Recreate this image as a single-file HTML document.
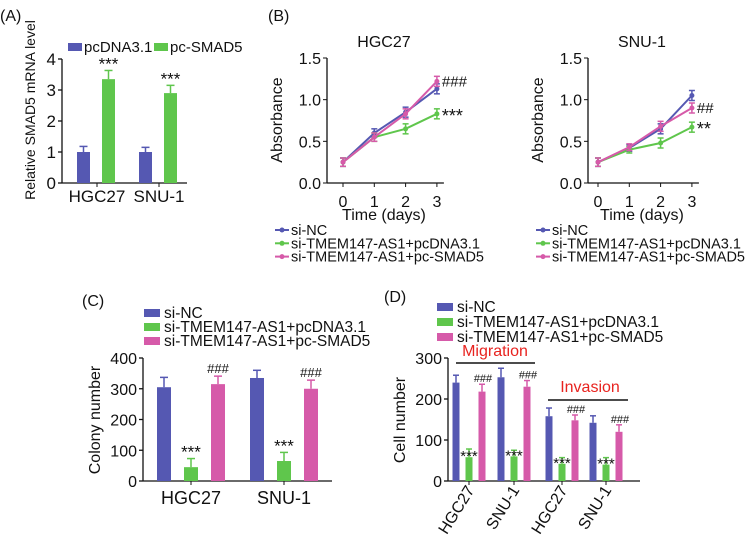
<!DOCTYPE html>
<html><head><meta charset="utf-8"><style>
body{margin:0;background:#fff}
svg{display:block;font-family:"Liberation Sans",Arial,sans-serif}
</style></head><body>
<svg id="fig" width="751" height="536" viewBox="0 0 751 536"></svg>
<script>
// Panel A data
const aGroups = ["HGC27","SNU-1"];
const aCtrl = [1.0, 1.0];
const aCtrlErr = [0.18, 0.15];
const aSmad = [3.35, 2.9];
const aSmadErr = [0.28, 0.25];
const aTicks = [0,1,2,3,4];
// Panel B data
const bDays = [0,1,2,3];
const bTicks = [0.0,0.5,1.0,1.5];
const bHgcNC = [0.25,0.60,0.85,1.13];
const bHgcPc = [0.25,0.55,0.65,0.83];
const bHgcSm = [0.25,0.55,0.83,1.22];
const bHgcErr = [0.05,0.05,0.06,0.06];
const bSnuNC = [0.25,0.42,0.65,1.05];
const bSnuPc = [0.25,0.40,0.48,0.67];
const bSnuSm = [0.25,0.43,0.68,0.90];
const bSnuErr = [0.05,0.04,0.06,0.06];
// Panel C data
const cGroups = ["HGC27","SNU-1"];
const cNC = [305,335];
const cPc = [45,65];
const cSm = [315,300];
const cNCErr = [32,25];
const cPcErr = [28,28];
const cSmErr = [26,28];
const cTicks = [0,100,200,300,400];
// Panel D data
const dGroups = ["HGC27","SNU-1","HGC27","SNU-1"];
const dNC = [240,253,158,142];
const dPc = [58,60,42,40];
const dSm = [218,230,148,120];
const dNCErr = [18,22,20,17];
const dPcErr = [20,15,15,17];
const dSmErr = [18,15,13,17];
const dTicks = [0,100,200,300];

const BLUE="#5558b2", GREEN="#5fc64c", PINK="#d65aa9";
const svg=document.getElementById('fig');
const NS="http://www.w3.org/2000/svg";
function el(tag,attrs,parent){const e=document.createElementNS(NS,tag);for(const k in attrs)e.setAttribute(k,attrs[k]);(parent||svg).appendChild(e);return e;}
function txt(x,y,s,size,anchor,parent,extra){const t=el('text',Object.assign({x:x,y:y,'font-size':size,'text-anchor':anchor||'middle',fill:'#111'},extra||{}),parent);t.textContent=s;return t;}
function grp(name){const g=el('g',{});return g;}
function errBar(g,x,yTop,yVal,color,w){el('line',{x1:x,x2:x,y1:yVal,y2:yTop,stroke:color,'stroke-width':1.5},g);el('line',{x1:x-w,x2:x+w,y1:yTop,y2:yTop,stroke:color,'stroke-width':1.5},g);}
function yAxis(g,x,y0,x1,ticks,ys,size){el('line',{x1:x,x2:x,y1:ys(ticks[ticks.length-1]),y2:y0,stroke:'#111','stroke-width':1.3},g);el('line',{x1:x,x2:x1,y1:y0,y2:y0,stroke:'#111','stroke-width':1.3},g);
 ticks.forEach(t=>{el('line',{x1:x-4,x2:x,y1:ys(t),y2:ys(t),stroke:'#111','stroke-width':1.3},g);txt(x-6,ys(t)+6,String(t),size,'end',g);});}

// ---------- Panel A ----------
(function(){
 const g=grp('panel-a');
 txt(0,21,"(A)",16,'start',g);
 const ys=v=>183-v*31;
 yAxis(g,62,183,187,aTicks,ys,17);
 const gx=[97,159];
 aGroups.forEach((n,i)=>{
  const bx=gx[i]-20, sx=gx[i]+5;
  const r1=el('rect',{x:bx,y:ys(aCtrl[i]),width:13,height:183-ys(aCtrl[i]),fill:BLUE},g);
  
  
  errBar(g,bx+6.5,ys(aCtrl[i]+aCtrlErr[i]),ys(aCtrl[i]),BLUE,4);
  const r2=el('rect',{x:sx,y:ys(aSmad[i]),width:13,height:183-ys(aSmad[i]),fill:GREEN},g);
  
  
  errBar(g,sx+6.5,ys(aSmad[i]+aSmadErr[i]),ys(aSmad[i]),GREEN,4);
  txt(sx+6.5,ys(aSmad[i]+aSmadErr[i])-1,"***",17,'middle',g);
  el('line',{x1:gx[i],x2:gx[i],y1:183,y2:187,stroke:'#111'},g);
  txt(gx[i],202,n,17,'middle',g);
 });
 txt(0,0,"Relative SMAD5 mRNA level",14,'middle',g,{transform:'translate(35,110) rotate(-90)'});
 el('rect',{x:68,y:43,width:14,height:8,fill:BLUE},g);
 txt(84,52,"pcDNA3.1",15,'start',g);
 el('rect',{x:154,y:43,width:14,height:8,fill:GREEN},g);
 txt(170,52,"pc-SMAD5",15,'start',g);
})();

// ---------- Panel B ----------
function lineChart(name,ax,x0,title,series,errs,colors,annot){
 const g=grp(name);
 const ys=v=>183-v*(125/1.5);
 const xs=d=>x0+d*31.3;
 el('line',{x1:ax,x2:ax,y1:ys(1.5),y2:183,stroke:'#111','stroke-width':1.3},g);
 el('line',{x1:ax,x2:xs(3)+7,y1:183,y2:183,stroke:'#111','stroke-width':1.3},g);
 bTicks.forEach(t=>{el('line',{x1:ax-4,x2:ax,y1:ys(t),y2:ys(t),stroke:'#111'},g);txt(ax-6,ys(t)+6,t.toFixed(1),16,'end',g);});
 bDays.forEach(d=>{el('line',{x1:xs(d),x2:xs(d),y1:183,y2:187,stroke:'#111'},g);txt(xs(d),207,String(d),16,'middle',g);});
 txt((ax+xs(3))/2+2,220,"Time (days)",16,'middle',g);
 txt((ax+xs(3))/2+2,47,title,16,'middle',g);
 txt(0,0,"Absorbance",16,'middle',g,{transform:'translate('+(ax-45)+',120) rotate(-90)'});
 series.forEach((s,si)=>{
  const pts=bDays.map((d,i)=>xs(d)+','+ys(s[i])).join(' ');
  const pl=el('polyline',{points:pts,fill:'none',stroke:colors[si],'stroke-width':2},g);
  
  
  bDays.forEach((d,i)=>{
   el('line',{x1:xs(d),x2:xs(d),y1:ys(s[i]-errs[i]),y2:ys(s[i]+errs[i]),stroke:colors[si],'stroke-width':1.5},g);
   el('line',{x1:xs(d)-3,x2:xs(d)+3,y1:ys(s[i]+errs[i]),y2:ys(s[i]+errs[i]),stroke:colors[si],'stroke-width':1.5},g);
   el('line',{x1:xs(d)-3,x2:xs(d)+3,y1:ys(s[i]-errs[i]),y2:ys(s[i]-errs[i]),stroke:colors[si],'stroke-width':1.5},g);
   el('circle',{cx:xs(d),cy:ys(s[i]),r:2.5,fill:colors[si]},g);
  });
 });
 txt(xs(3)+5,ys(series[2][3])+5,annot[0],15,'start',g);
 txt(xs(3)+5,ys(series[1][3])+8,annot[1],18,'start',g);
 const lx=ax-52, labels=["si-NC","si-TMEM147-AS1+pcDNA3.1","si-TMEM147-AS1+pc-SMAD5"];
 labels.forEach((l,i)=>{const y=230+i*13.3;el('line',{x1:lx,x2:lx+14,y1:y,y2:y,stroke:colors[i],'stroke-width':2},g);el('circle',{cx:lx+7,cy:y,r:2.5,fill:colors[i]},g);txt(lx+16,y+5,l,14.5,'start',g);});
}
lineChart('panel-b-hgc27',327,343,"HGC27",[bHgcNC,bHgcPc,bHgcSm],bHgcErr,[BLUE,GREEN,PINK],["###","***"]);
lineChart('panel-b-snu1',588,598,"SNU-1",[bSnuNC,bSnuPc,bSnuSm],bSnuErr,[BLUE,GREEN,PINK],["##","**"]);
(function(){const g=grp('panel-b-label');txt(268,21,"(B)",16,'start',g);})();

// ---------- Panel C ----------
function legend3(g,x,ys,size){const labels=["si-NC","si-TMEM147-AS1+pcDNA3.1","si-TMEM147-AS1+pc-SMAD5"],cols=[BLUE,GREEN,PINK];
 labels.forEach((l,i)=>{el('rect',{x:x,y:ys[i]-4,width:16,height:8,fill:cols[i]},g);txt(x+20,ys[i]+5,l,size,'start',g);});}
(function(){
 const g=grp('panel-c');
 txt(82,306,"(C)",16,'start',g);
 const ys=v=>481-v*(123/400);
 yAxis(g,143,481,332,cTicks,ys,16);
 const gx=[191,284],off=[-27,0,27],cols=[BLUE,GREEN,PINK];
 const vals=[cNC,cPc,cSm],errs=[cNCErr,cPcErr,cSmErr];
 cGroups.forEach((n,i)=>{
  vals.forEach((v,k)=>{
   const x=gx[i]+off[k]-7;
   const r=el('rect',{x:x,y:ys(v[i]),width:14,height:481-ys(v[i]),fill:cols[k]},g);
   
   
   errBar(g,x+7,ys(v[i]+errs[k][i]),ys(v[i]),cols[k],4);
  });
  txt(gx[i],ys(cPc[i]+cPcErr[i])-1,"***",17,'middle',g);
  txt(gx[i]+27,ys(cSm[i]+cSmErr[i])-3,"###",13,'middle',g);
  el('line',{x1:gx[i],x2:gx[i],y1:481,y2:485,stroke:'#111'},g);
  txt(gx[i],504,n,18,'middle',g);
 });
 txt(0,0,"Colony number",16,'middle',g,{transform:'translate(100,420) rotate(-90)'});
 legend3(g,144,[313,327,341],15.5);
})();

// ---------- Panel D ----------
(function(){
 const g=grp('panel-d');
 txt(384,302,"(D)",16,'start',g);
 const ys=v=>481-v*(123/300);
 yAxis(g,448,481,640,dTicks,ys,16);
 const gx=[469,514,562,606],off=[-13,0,13],cols=[BLUE,GREEN,PINK];
 const vals=[dNC,dPc,dSm],errs=[dNCErr,dPcErr,dSmErr];
 dGroups.forEach((n,i)=>{
  vals.forEach((v,k)=>{
   const x=gx[i]+off[k]-3.5;
   const r=el('rect',{x:x,y:ys(v[i]),width:7,height:481-ys(v[i]),fill:cols[k]},g);
   
   
   errBar(g,x+3.5,ys(v[i]+errs[k][i]),ys(v[i]),cols[k],3);
  });
  txt(gx[i],ys(dPc[i])+4,"***",15,'middle',g);
  txt(gx[i]+14,ys(dSm[i]+dSmErr[i])-2,"###",11,'middle',g);
  el('line',{x1:gx[i],x2:gx[i],y1:481,y2:485,stroke:'#111'},g);
  txt(0,0,n,16,'end',g,{transform:'translate('+(gx[i]+6)+',490) rotate(-58)'});
 });
 el('line',{x1:456,x2:535,y1:363,y2:363,stroke:'#111','stroke-width':1.5},g);
 txt(495,356,"Migration",16,'middle',g,{fill:'#e8231f'});
 el('line',{x1:548,x2:628,y1:400,y2:400,stroke:'#111','stroke-width':1.5},g);
 txt(590,392,"Invasion",16,'middle',g,{fill:'#e8231f'});
 txt(0,0,"Cell number",16,'middle',g,{transform:'translate(405,420) rotate(-90)'});
 legend3(g,437,[307,322,337],15.5);
})();
</script>
</body></html>
